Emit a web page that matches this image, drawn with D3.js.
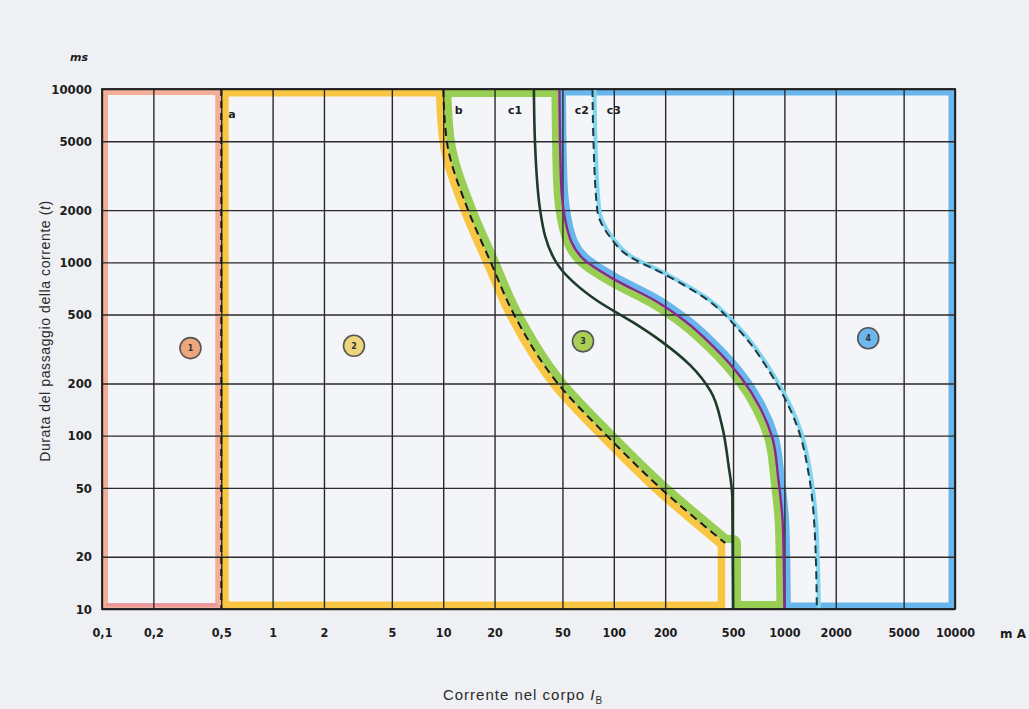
<!DOCTYPE html>
<html>
<head>
<meta charset="utf-8">
<script src="https://cdn.jsdelivr.net/npm/d3@7"></script>
<style>
  body { margin: 0; background: #eef0f4; }
  svg { display: block; }
  .tick text { font-family: "Liberation Sans Narrow", "DejaVu Sans Condensed", "DejaVu Sans", sans-serif; font-weight: bold; fill: #1c1c1c; }
  .tick line { stroke: #2a2a2a; stroke-width: 1.4; }
</style>
</head>
<body>
<svg id="chart" width="1029" height="709"></svg>
<script>
// ticks
var xTicks = [0.1, 0.2, 0.5, 1, 2, 5, 10, 20, 50, 100, 200, 500, 1000, 2000, 5000, 10000];
var xLabels = ["0,1", "0,2", "0,5", "1", "2", "5", "10", "20", "50", "100", "200", "500", "1000", "2000", "5000", "10000"];
var yTicks = [10, 20, 50, 100, 200, 500, 1000, 2000, 5000, 10000];
var yLabels = ["10", "20", "50", "100", "200", "500", "1000", "2000", "5000", "10000"];

// curves, [mA, ms]
var lineA = 0.5;
var curveB = [[10, 10000], [10.5, 5000], [14, 2000], [19, 1000], [26, 500], [47, 200], [91, 100], [187, 50], [450, 24]];
var curveC1 = [[34, 10000], [34.5, 5000], [37, 2000], [46, 1000], [80, 600], [130, 450], [190, 350], [280, 255], [370, 180], [430, 115], [470, 68], [495, 44], [500, 10]];
var curveC2 = [[48, 10000], [49, 3000], [53, 1600], [66, 1050], [100, 800], [175, 600], [260, 460], [380, 330], [560, 215], [720, 145], [850, 97], [920, 57], [980, 30], [1000, 10]];
var curveC3 = [[75, 10000], [76, 5000], [80, 2000], [95, 1400], [120, 1100], [200, 850], [360, 600], [550, 400], [850, 220], [1200, 110], [1400, 57], [1500, 30], [1550, 10]];

// labels
var zoneNames = ["1", "2", "3", "4"];
var zonePos = [[0.33, 320], [3.0, 330], [66, 350], [3100, 365]];
var curveNames = ["a", "b", "c1", "c2", "c3"];
var curvePos = [[0.55, 6800], [11.7, 7200], [24, 7200], [59, 7200], [91, 7200]];

var zoneColors = ["#f2a68c", "#f8c12e", "#8fca42", "#5aafea"];
var zoneFill = ["#eea67c", "#ecd57a", "#a9cf57", "#6db6ee"];

var svg = d3.select("#chart");
var x = d3.scaleLog().domain([0.1, 10000]).range([102, 955]);
var y = d3.scaleLog().domain([10, 10000]).range([609, 89]);
var line = d3.line().x(function(d){ return x(d[0]); }).y(function(d){ return y(d[1]); }).curve(d3.curveMonotoneY);

function seg(pts) { return line(pts).replace(/^M/, "L"); }
function pt(mA, ms) { return x(mA) + "," + y(ms); }

var bEnd = curveB[curveB.length - 1];
var c2End = curveC2[curveC2.length - 1];

var zones = [
  "M" + pt(0.1, 10000) + "L" + pt(lineA, 10000) + "L" + pt(lineA, 10) + "L" + pt(0.1, 10) + "Z",
  "M" + pt(lineA, 10000) + seg(curveB) + "L" + pt(bEnd[0], 10) + "L" + pt(lineA, 10) + "Z",
  line(curveB) + "L" + pt(500, bEnd[1]) + "L" + pt(500, 10) + "L" + pt(c2End[0], 10) + seg(curveC2.slice().reverse()) + "Z",
  line(curveC2) + "L" + pt(10000, 10) + "L" + pt(10000, 10000) + "Z"
];
var bandWidth = [12, 15, 16, 13];

// plot paper
svg.append("rect")
    .attr("x", x(0.1)).attr("y", y(10000))
    .attr("width", x(10000) - x(0.1)).attr("height", y(10) - y(10000))
    .attr("fill", "#f4f5f8");

var defs = svg.append("defs");
zones.forEach(function(d, i){
  defs.append("clipPath").attr("id", "zone" + i).append("path").attr("d", d);
});

// colored zone borders (inner half of stroke only)
svg.append("g").selectAll("path")
    .data(zones)
  .enter().append("path")
    .attr("d", function(d){ return d; })
    .attr("clip-path", function(d, i){ return "url(#zone" + i + ")"; })
    .attr("fill", "none")
    .attr("stroke", function(d, i){ return zoneColors[i]; })
    .attr("stroke-width", function(d, i){ return bandWidth[i]; })
    .attr("stroke-linejoin", "round")
    .attr("opacity", 0.9);

// pinkish bottom of zone 1
svg.append("line")
    .attr("x1", x(0.1) + 4).attr("x2", x(lineA) - 4)
    .attr("y1", y(10) - 4).attr("y2", y(10) - 4)
    .attr("stroke", "#ea8ea6").attr("stroke-width", 3).attr("opacity", 0.8);

// grid + tick labels
var gx = svg.append("g")
    .attr("transform", "translate(0," + y(10) + ")")
    .call(d3.axisBottom(x).tickValues(xTicks)
      .tickFormat(function(d, i){ return xLabels[i]; })
      .tickSize(-(y(10) - y(10000))).tickPadding(19));
gx.select(".domain").remove();
gx.selectAll(".tick text").style("font-size", "12.5px");

var gy = svg.append("g")
    .attr("transform", "translate(" + x(0.1) + ",0)")
    .call(d3.axisLeft(y).tickValues(yTicks)
      .tickFormat(function(d, i){ return yLabels[i]; })
      .tickSize(-(x(10000) - x(0.1))).tickPadding(10));
gy.select(".domain").remove();
gy.selectAll(".tick text").style("font-size", "13px");

// curves
svg.append("line")
    .attr("x1", x(lineA)).attr("x2", x(lineA))
    .attr("y1", y(10000)).attr("y2", y(10))
    .attr("stroke", "#1a1a1a").attr("stroke-width", 2)
    .attr("stroke-dasharray", "7,5");

svg.append("path")
    .attr("d", line(curveC3))
    .attr("transform", "translate(2,0)")
    .attr("fill", "none").attr("stroke", "#7fd5ef").attr("stroke-width", 4);
svg.append("path")
    .attr("d", line(curveC3))
    .attr("fill", "none").attr("stroke", "#1f3a44").attr("stroke-width", 2)
    .attr("stroke-dasharray", "8,5");

svg.append("path")
    .attr("d", line(curveC2))
    .attr("fill", "none").attr("stroke", "#8a2890").attr("stroke-width", 2.4);

svg.append("path")
    .attr("d", line(curveC1))
    .attr("fill", "none").attr("stroke", "#1e3a28").attr("stroke-width", 2.6);

svg.append("path")
    .attr("d", line(curveB))
    .attr("fill", "none").attr("stroke", "#1a1a1a").attr("stroke-width", 2)
    .attr("stroke-dasharray", "8,5");

// frame
svg.append("rect")
    .attr("x", x(0.1)).attr("y", y(10000))
    .attr("width", x(10000) - x(0.1)).attr("height", y(10) - y(10000))
    .attr("fill", "none").attr("stroke", "#1e1e1e").attr("stroke-width", 1.8);

// curve names
svg.append("g").selectAll("text")
    .data(curveNames)
  .enter().append("text")
    .attr("x", function(d, i){ return x(curvePos[i][0]); })
    .attr("y", function(d, i){ return y(curvePos[i][1]); })
    .attr("font-family", "DejaVu Sans, sans-serif")
    .attr("font-weight", "bold")
    .attr("font-size", "11px")
    .attr("fill", "#1c1c1c")
    .text(function(d){ return d; });

// zone number circles
var zc = svg.append("g").selectAll("g")
    .data(zoneNames)
  .enter().append("g")
    .attr("transform", function(d, i){ return "translate(" + x(zonePos[i][0]) + "," + y(zonePos[i][1]) + ")"; });
zc.append("circle")
    .attr("r", 10.5)
    .attr("fill", function(d, i){ return zoneFill[i]; })
    .attr("stroke", "#555").attr("stroke-width", 1.6);
zc.append("text")
    .attr("text-anchor", "middle").attr("dy", "0.35em")
    .attr("font-family", "DejaVu Sans, sans-serif")
    .attr("font-weight", "bold").attr("font-size", "8px")
    .attr("fill", "#333")
    .text(function(d){ return d; });

// units and titles
svg.append("text")
    .attr("x", x(0.1) - 14).attr("y", y(10000) - 28)
    .attr("text-anchor", "end")
    .attr("font-family", "DejaVu Sans, sans-serif")
    .attr("font-style", "italic").attr("font-weight", "bold").attr("font-size", "11px")
    .attr("fill", "#1c1c1c")
    .text("ms");

svg.append("text")
    .attr("x", x(10000) + 58).attr("y", y(10) + 29)
    .attr("text-anchor", "middle")
    .attr("font-family", "DejaVu Sans, sans-serif")
    .attr("font-weight", "bold").attr("font-size", "12px")
    .attr("fill", "#1c1c1c")
    .text("m A");

var yt = svg.append("text")
    .attr("transform", "translate(50,331) rotate(-90)")
    .attr("text-anchor", "middle")
    .attr("font-family", "Liberation Sans, Arial, sans-serif")
    .attr("font-size", "14px")
    .attr("letter-spacing", "0.6px")
    .attr("fill", "#2a2a2a");
yt.append("tspan").text("Durata del passaggio della corrente (");
yt.append("tspan").attr("font-style", "italic").text("t");
yt.append("tspan").text(")");

var xt = svg.append("text")
    .attr("x", 523).attr("y", 700)
    .attr("text-anchor", "middle")
    .attr("font-family", "Liberation Sans, Arial, sans-serif")
    .attr("font-size", "15px")
    .attr("letter-spacing", "1px")
    .attr("fill", "#2a2a2a");
xt.append("tspan").text("Corrente nel corpo ");
xt.append("tspan").attr("font-style", "italic").text("I");
xt.append("tspan").attr("font-size", "10px").attr("dy", "4").text("B");
</script>
</body>
</html>
